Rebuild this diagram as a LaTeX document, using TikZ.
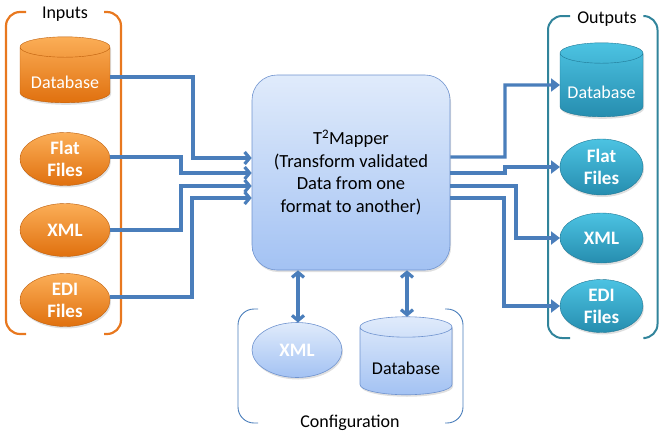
\documentclass[tikz,border=0pt]{standalone}
\usepackage{fontspec}
\setmainfont{Carlito}
\usetikzlibrary{arrows.meta,shapes.geometric,shadows}
\definecolor{lineblue}{HTML}{4A7EBB}
\definecolor{orTop}{HTML}{FBAE57}
\definecolor{orBot}{HTML}{E0700E}
\definecolor{orLine}{HTML}{E8781F}
\definecolor{tlTop}{HTML}{4CC3E2}
\definecolor{tlBot}{HTML}{268DAF}
\definecolor{tlLine}{HTML}{31849B}
\definecolor{bxTop}{HTML}{E0EBFB}
\definecolor{bxBot}{HTML}{A3C2F3}
\definecolor{bxLine}{HTML}{6F93CF}
\newcommand{\lowtxt}[1]{\raisebox{-7pt}[\height][\depth]{#1}}
\tikzset{
  lbl/.style={font=\fontsize{18}{22}\selectfont, text=black, inner sep=2pt},
  shp/.style={inner xsep=0pt, inner ysep=-8pt, outer sep=0pt, align=center,
    drop shadow={shadow xshift=1pt, shadow yshift=-2pt, opacity=0.25}},
  boldtxt/.style={font=\fontsize{19}{22}\selectfont\bfseries, text=white},
  regtxt/.style={font=\fontsize{18}{22}\selectfont},
  cyl/.style={shp, shape=cylinder, shape border rotate=90, aspect=0.3},
  inell/.style={shp, boldtxt, ellipse, top color=orTop, bottom color=orBot, draw=orBot!85!black, line width=0.4pt, minimum width=90, minimum height=53},
  incyl/.style={cyl, regtxt, text=white, top color=orTop, bottom color=orBot, draw=orBot!85!black, line width=0.4pt, minimum width=90, minimum height=66},
  outell/.style={shp, boldtxt, ellipse, top color=tlTop, bottom color=tlBot, draw=tlBot!85!black, line width=0.4pt, minimum width=83},
  outcyl/.style={cyl, regtxt, text=white, top color=tlTop, bottom color=tlBot, draw=tlBot!85!black, line width=0.4pt, minimum width=83, minimum height=74},
  cfgell/.style={shp, boldtxt, ellipse, top color=bxTop, bottom color=bxBot, draw=bxLine, line width=0.6pt, minimum width=90, minimum height=55},
  cfgcyl/.style={cyl, regtxt, text=black, top color=bxTop, bottom color=bxBot, draw=bxLine, line width=0.6pt, minimum width=92, minimum height=78},
  mainbox/.style={rectangle, rounded corners=25, top color=bxTop, bottom color=bxBot, draw=bxLine, line width=0.6pt,
    minimum width=198, minimum height=195, align=center, font=\fontsize{18.5}{22.5}\selectfont,
    drop shadow={shadow xshift=1pt, shadow yshift=-2pt, opacity=0.25}},
  inarrow/.style={draw=lineblue, line width=3.2pt, -{Straight Barb[length=5pt,width=12pt]}},
  outarrow/.style={draw=lineblue, line width=3.2pt, -{Triangle[length=9pt,width=13pt]}},
  cfgarrow/.style={draw=lineblue, line width=3.2pt, {Straight Barb[length=5pt,width=12pt]}-{Straight Barb[length=5pt,width=12pt]}},
  orbr/.style={draw=orLine, line width=2.2pt, rounded corners=14},
  tlbr/.style={draw=tlLine, line width=2pt, rounded corners=14},
  cfgbr/.style={draw=lineblue, line width=0.9pt, rounded corners=16},
}
\begin{document}
\begin{tikzpicture}[x=1pt, y=-1pt]
\useasboundingbox (0,0) rectangle (659,432);
% brackets
\draw[orbr] (26,12) -- (6,12) -- (6,334) -- (26,334);
\draw[orbr] (104,12) -- (121,12) -- (121,334) -- (104,334);
\node[lbl] (lblIn) at (65,14) {Inputs};
\draw[tlbr] (570,16) -- (548,16) -- (548,338) -- (570,338);
\draw[tlbr] (645,16) -- (657.5,16) -- (657.5,338) -- (645,338);
\node[lbl] (lblOut) at (607,19) {Outputs};
\draw[cfgbr] (258,309) -- (238,309) -- (238,423) -- (258,423);
\draw[cfgbr] (445,309) -- (463,309) -- (463,423) -- (445,423);
\node[lbl] (lblCfg) at (350,423) {Configuration};
% inputs
\node[incyl] (inDB) at (65,75) {\lowtxt{Database}};
\node[inell] (inFlat) at (65,159) {Flat\\Files};
\node[inell] (inXML) at (65,230) {XML};
\node[inell] (inEDI) at (65,300) {EDI\\Files};
% outputs
\node[outcyl] (outDB) at (601.5,85) {\lowtxt{Database}};
\node[outell, minimum height=56] (outFlat) at (601.5,167) {Flat\\Files};
\node[outell, minimum height=50] (outXML) at (601.5,238) {XML};
\node[outell, minimum height=53] (outEDI) at (601.5,306) {EDI\\Files};
% main box
\node[mainbox] (box) at (351,172.5) {T\textsuperscript{2}Mapper\\(Transform validated\\Data from one\\format to another)};
% config
\node[cfgell] (cfgXML) at (297,350) {XML};
\node[cfgcyl] (cfgDB) at (406,361) {\lowtxt{Database}};
% input connectors
\draw[inarrow] (inDB.east |- 0,77) -- (193,77) -- (193,158) -- (box.west |- 0,158);
\draw[inarrow] (inFlat.east |- 0,157) -- (181,157) -- (181,173) -- (box.west |- 0,173);
\draw[inarrow] (inXML.east) -- (181,230) -- (181,186) -- (box.west |- 0,186);
\draw[inarrow] (inEDI.east |- 0,297) -- (192,297) -- (192,198) -- (box.west |- 0,198);
% output connectors
\draw[outarrow] (box.east |- 0,157) -- (505,157) -- (505,85) -- (outDB.west);
\draw[outarrow] (box.east |- 0,173) -- (505,173) -- (505,167) -- (outFlat.west);
\draw[outarrow] (box.east |- 0,186) -- (516,186) -- (516,238) -- (outXML.west);
\draw[outarrow] (box.east |- 0,198) -- (504,198) -- (504,306) -- (outEDI.west);
% config connectors
\draw[cfgarrow] (box.south -| 298,0) -- (cfgXML.north -| 298,0);
\draw[cfgarrow] (box.south -| 407,0) -- (cfgDB.north -| 407,0);
\end{tikzpicture}
\end{document}
